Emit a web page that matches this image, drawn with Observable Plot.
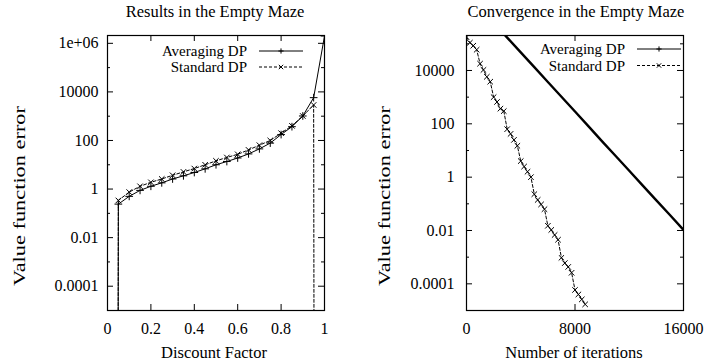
<!DOCTYPE html>
<html><head><meta charset="utf-8">
<script src="https://cdn.jsdelivr.net/npm/d3@7"></script>
<script src="https://cdn.jsdelivr.net/npm/@observablehq/plot@0.6"></script>
<style>
body{margin:0;background:#fff;}
#wrap{position:relative;width:704px;height:362px;overflow:hidden;background:#fff;font-family:"Liberation Serif","Times New Roman",serif;}
#wrap > svg, #wrap > figure{position:absolute;top:0;margin:0;}
</style></head><body><div id="wrap"></div>
<script>
// ---------- Left panel: Results in the Empty Maze ----------
const discount = [0, 0.05, 0.10, 0.15, 0.20, 0.25, 0.30, 0.35, 0.40, 0.45, 0.50, 0.55, 0.60, 0.65, 0.70, 0.75, 0.80, 0.85, 0.90, 0.95, 1.0];
const averagingErrLeft = [1e-300, 0.24, 0.5, 0.88, 1.3, 1.8, 2.6, 3.5, 4.8, 6.8, 10, 13.6, 19, 28, 45, 78, 175, 370, 1020, 5800, 2e6];
const standardErrLeft  = [1e-300, 0.34, 0.75, 1.3, 1.9, 2.6, 3.7, 5.1, 7, 10, 14.5, 20, 27, 41, 64, 100, 200, 400, 1020, 2900, 1e-300];
const leftXTicks = [0, 0.2, 0.4, 0.6, 0.8, 1];
const leftXTickLabels = ["0", "0.2", "0.4", "0.6", "0.8", "1"];
const leftYMajor = [1e-4, 1e-2, 1, 100, 1e4, 1e6];
const leftYTickLabels = ["0.0001", "0.01", "1", "100", "10000", "1e+06"];
const leftYMinor = [1e-3, 1e-1, 10, 1e3, 1e5];

// ---------- Right panel: Convergence in the Empty Maze ----------
const iterStandard = [0, 250, 500, 750, 1000, 1250, 1500, 1750, 2000, 2250, 2500, 2750, 3000, 3250, 3500, 3750, 4000, 4250, 4500, 4750, 5000, 5250, 5500, 5750, 6000, 6250, 6500, 6750, 7000, 7250, 7500, 7750, 8000, 8250, 8500, 8750];
const standardErrRight = [1.8e5, 1.1e5, 8.5e4, 6.0e4, 1.8e4, 1.05e4, 5.8e3, 3.8e3, 1.0e3, 660, 370, 300, 63, 42, 25, 15, 4.0, 2.5, 1.6, 1.0, 0.23, 0.14, 0.095, 0.063, 0.015, 0.0105, 0.0068, 0.0045, 9.5e-4, 6.0e-4, 4.3e-4, 2.6e-4, 5.9e-5, 4.0e-5, 2.6e-5, 1.7e-5];
const iterAveraging = [0, 1000, 2000, 3000, 4000, 5000, 6000, 7000, 8000, 9000, 10000, 11000, 12000, 13000, 14000, 15000, 16000];
const averagingErrRight = [7.9e6, 2.2e6, 6.2e5, 1.7e5, 4.8e4, 1.33e4, 3.7e3, 1.04e3, 290, 80, 22, 6.2, 1.74, 0.48, 0.135, 0.038, 0.0105];
const rightXTicks = [0, 8000, 16000];
const rightXTickLabels = ["0", "8000", "16000"];
const rightYMajor = [1e-4, 1e-2, 1, 100, 1e4];
const rightYTickLabels = ["0.0001", "0.01", "1", "100", "10000"];
const rightYMinor = [1e-5, 1e-3, 1e-1, 10, 1e3, 1e5];

const W = 352, H = 362, MT = 35, MB = 52;

function panel(o) {
  const fw = W - o.ml - o.mr, fh = H - MT - MB;
  const xl = new Map(o.xTicks.map((d, i) => [d, o.xLabels[i]]));
  const yl = new Map(o.yMajor.map((d, i) => [d, o.yLabels[i]]));
  const avg = o.ax.map((x, i) => ({x, y: o.ay[i]}));
  const std = o.sx.map((x, i) => ({x, y: o.sy[i]}));
  const marks = [
    // inward tick marks, mirrored on all four sides
    Plot.ruleY(o.yMajor, {y: d => d, insetRight: fw - 6, stroke: "black"}),
    Plot.ruleY(o.yMajor, {y: d => d, insetLeft: fw - 6, stroke: "black"}),
    Plot.ruleY(o.yMinor, {y: d => d, insetRight: fw - 3, stroke: "black"}),
    Plot.ruleY(o.yMinor, {y: d => d, insetLeft: fw - 3, stroke: "black"}),
    Plot.ruleX(o.xTicks, {x: d => d, insetTop: fh - 6, stroke: "black"}),
    Plot.ruleX(o.xTicks, {x: d => d, insetBottom: fh - 6, stroke: "black"}),
    Plot.line(std, {x: "x", y: "y", stroke: "black", strokeWidth: 1, strokeDasharray: "3,2", clip: true}),
    Plot.dot(std, {x: "x", y: "y", symbol: "times", r: 2.6, stroke: "black", strokeWidth: 1, clip: true}),
    Plot.line(avg, {x: "x", y: "y", stroke: "black", strokeWidth: o.avgWidth, clip: true}),
  ];
  if (o.avgDots) marks.push(Plot.dot(avg, {x: "x", y: "y", symbol: "plus", r: 2.6, stroke: "black", strokeWidth: 1, clip: true}));
  marks.push(Plot.frame({stroke: "black", strokeWidth: 1.2}));
  const svg = Plot.plot({
    width: W, height: H,
    marginLeft: o.ml, marginRight: o.mr, marginTop: MT, marginBottom: MB,
    style: {fontFamily: '"Liberation Serif","Times New Roman",serif', fontSize: "16px", background: "transparent", color: "black", overflow: "visible"},
    x: {domain: o.xDomain, ticks: o.xTicks, tickFormat: d => xl.get(d), tickSize: 0, tickPadding: 12, label: null},
    y: {type: "log", domain: o.yDomain, ticks: o.yMajor, tickFormat: d => yl.get(d), tickSize: 0, tickPadding: o.yPad, label: null},
    marks
  });
  svg.style.left = o.left + "px";
  return svg;
}

const wrap = document.getElementById("wrap");
wrap.appendChild(panel({
  left: 0, ml: 107, mr: 28, xDomain: [0, 1], yDomain: [1e-5, 2.1e6],
  xTicks: leftXTicks, xLabels: leftXTickLabels, yMajor: leftYMajor, yLabels: leftYTickLabels, yMinor: leftYMinor, yPad: 9,
  ax: discount, ay: averagingErrLeft, sx: discount, sy: standardErrLeft, avgWidth: 1, avgDots: true
}));
wrap.appendChild(panel({
  left: 352, ml: 114, mr: 21, xDomain: [0, 16000], yDomain: [1e-5, 2.05e5],
  xTicks: rightXTicks, xLabels: rightXTickLabels, yMajor: rightYMajor, yLabels: rightYTickLabels, yMinor: rightYMinor, yPad: 12,
  ax: iterAveraging, ay: averagingErrRight, sx: iterStandard, sy: standardErrRight, avgWidth: 2.4, avgDots: false
}));

// ---------- titles, axis labels, legends ----------
const NS = "http://www.w3.org/2000/svg";
const ov = document.createElementNS(NS, "svg");
ov.setAttribute("width", 704); ov.setAttribute("height", 362);
ov.style.left = "0px";
ov.setAttribute("font-family", '"Liberation Serif","Times New Roman",serif');
function el(tag, attrs, text) {
  const e = document.createElementNS(NS, tag);
  for (const k in attrs) e.setAttribute(k, attrs[k]);
  if (text != null) e.textContent = text;
  ov.appendChild(e);
  return e;
}
const titles = ["Results in the Empty Maze", "Convergence in the Empty Maze"];
const xLabels = ["Discount Factor", "Number of iterations"];
const yLabel = "Value function error";
const seriesNames = ["Averaging DP", "Standard DP"];

el("text", {x: 215, y: 17, "font-size": 16.5, "text-anchor": "middle"}, titles[0]);
el("text", {x: 576, y: 17, "font-size": 16.5, "text-anchor": "middle"}, titles[1]);
el("text", {x: 214, y: 358, "font-size": 16.5, "text-anchor": "middle"}, xLabels[0]);
el("text", {x: 574, y: 358, "font-size": 16.5, "text-anchor": "middle"}, xLabels[1]);
el("text", {transform: "translate(25,196) rotate(-90)", "font-size": 16, "text-anchor": "middle", textLength: 180, lengthAdjust: "spacingAndGlyphs"}, yLabel);
el("text", {transform: "translate(390,196) rotate(-90)", "font-size": 16, "text-anchor": "middle", textLength: 180, lengthAdjust: "spacingAndGlyphs"}, yLabel);

function legend(textEnd, x1, x2, y1, y2) {
  const mx = (x1 + x2) / 2;
  el("text", {x: textEnd, y: y1 + 5, "font-size": 15, "text-anchor": "end"}, seriesNames[0]);
  el("line", {x1, x2, y1, y2: y1, stroke: "black", "stroke-width": 1});
  el("path", {d: `M${mx - 2.6},${y1}h5.2M${mx},${y1 - 2.6}v5.2`, stroke: "black", fill: "none"});
  el("text", {x: textEnd, y: y2 + 5, "font-size": 15, "text-anchor": "end"}, seriesNames[1]);
  el("line", {x1, x2, y1: y2, y2, stroke: "black", "stroke-width": 1, "stroke-dasharray": "3,2"});
  el("path", {d: `M${mx - 2.2},${y2 - 2.2}l4.4,4.4M${mx - 2.2},${y2 + 2.2}l4.4,-4.4`, stroke: "black", fill: "none"});
}
legend(247, 259, 303, 51, 67);
legend(625, 637, 681, 49, 65.5);
wrap.appendChild(ov);
</script></body></html>
